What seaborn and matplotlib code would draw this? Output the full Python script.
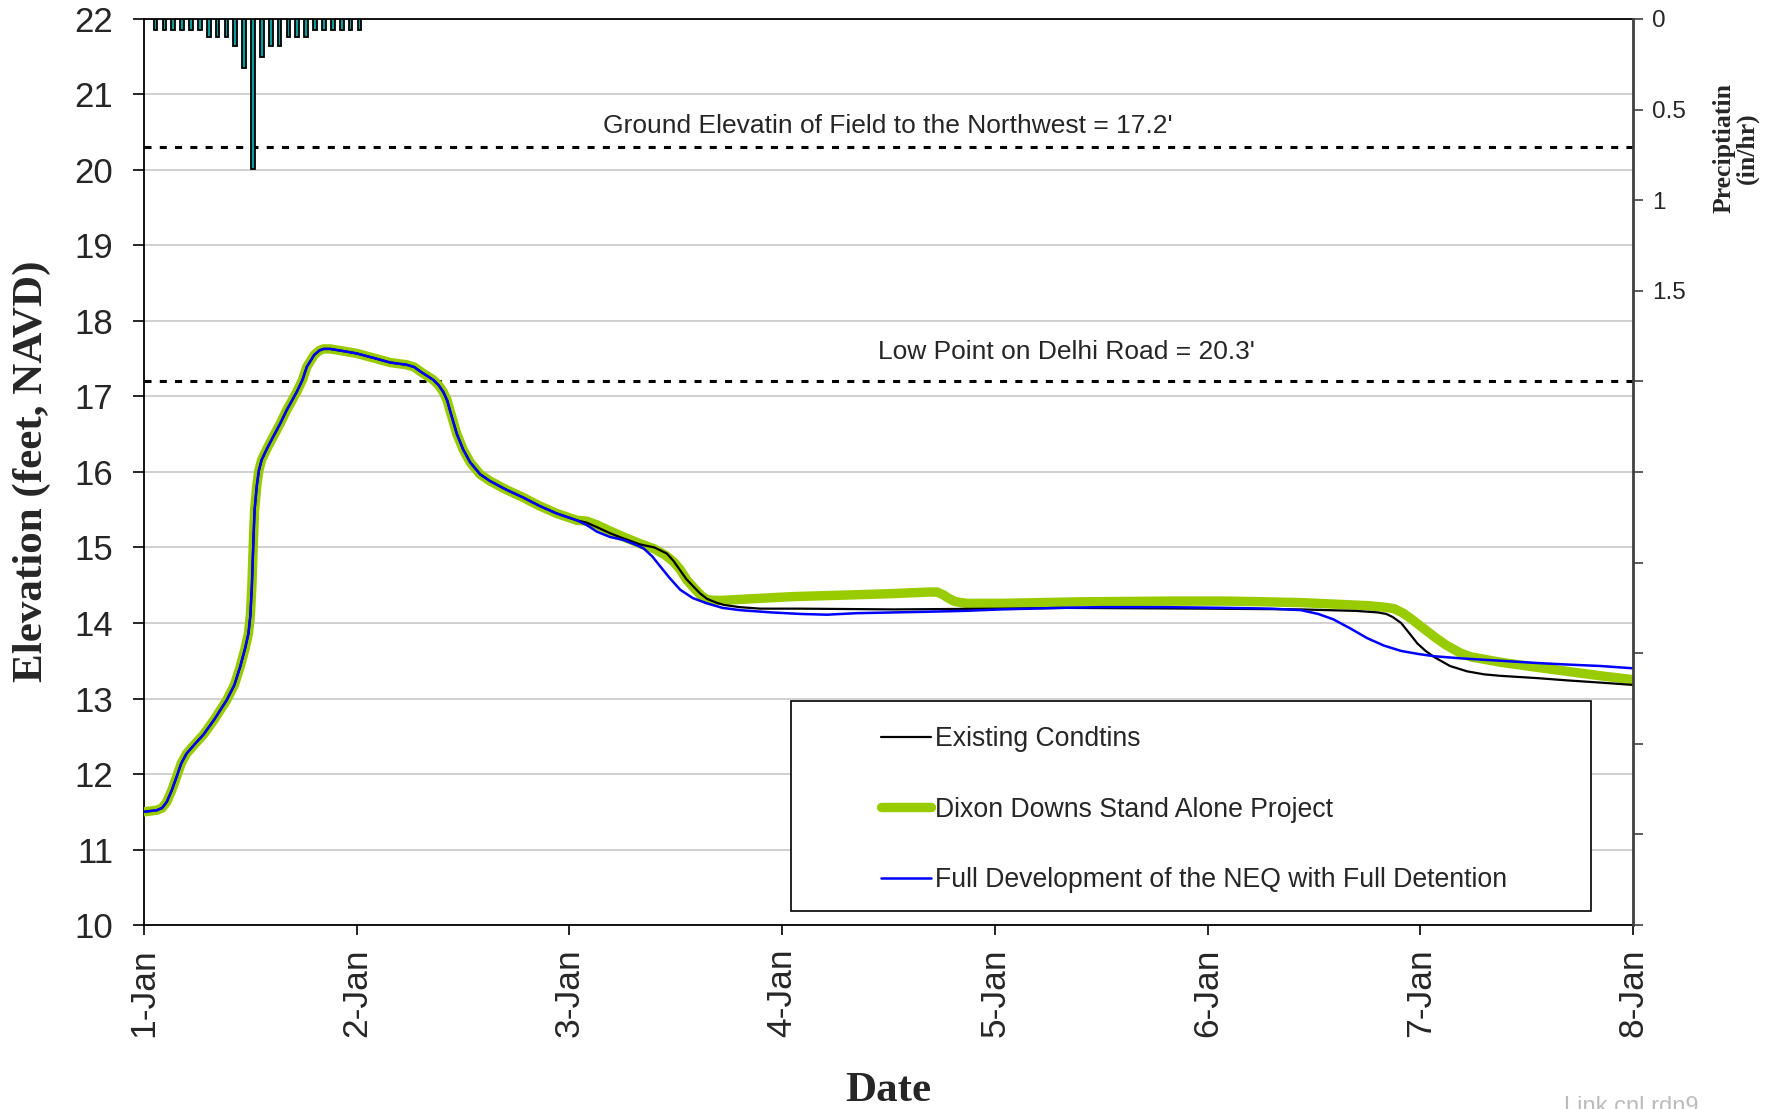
import numpy as np
import pandas as pd
import matplotlib
matplotlib.use("Agg")
import matplotlib.pyplot as plt
import seaborn as sns
from matplotlib.patches import Rectangle
from matplotlib.lines import Line2D
from matplotlib.ticker import FixedLocator, FuncFormatter

sns.set_theme(style="white")
plt.rcParams['font.family'] = ['Liberation Sans', 'DejaVu Sans']

# ---- data -------------------------------------------------------------
day_labels = ["1-Jan", "2-Jan", "3-Jan", "4-Jan", "5-Jan", "6-Jan", "7-Jan", "8-Jan"]

# shared rising limb / recession (days since 1-Jan, elevation ft)
common_day = [0.0, 0.06, 0.085, 0.107, 0.13, 0.153, 0.175, 0.20, 0.24, 0.279,
              0.33, 0.389, 0.425, 0.452, 0.475, 0.491, 0.50, 0.507,
              0.515, 0.52, 0.53, 0.54, 0.553, 0.58, 0.608, 0.64, 0.671, 0.718,
              0.745, 0.765, 0.80, 0.825, 0.844, 0.875,
              0.94, 1.0, 1.08, 1.157, 1.235, 1.27, 1.30, 1.36, 1.385, 1.407,
              1.425, 1.44, 1.47, 1.50, 1.533, 1.58, 1.627, 1.70, 1.784, 1.86,
              1.941, 2.035]
common_elev = [11.50, 11.52, 11.55, 11.63, 11.78, 11.96, 12.14, 12.27, 12.40, 12.52,
               12.72, 12.98, 13.18, 13.42, 13.66, 13.86, 14.10, 14.48,
               15.14, 15.50, 15.81, 16.02, 16.16, 16.32, 16.47, 16.64, 16.82, 17.06,
               17.22, 17.39, 17.55, 17.61, 17.63, 17.63,
               17.60, 17.57, 17.51, 17.45, 17.42, 17.39, 17.33, 17.22, 17.15, 17.06,
               16.95, 16.80, 16.51, 16.30, 16.13, 15.97, 15.88, 15.77, 15.66, 15.55,
               15.45, 15.36]

existing_day = [2.08, 2.129, 2.19, 2.254, 2.333, 2.40, 2.458, 2.49, 2.52, 2.55, 2.584,
                2.615, 2.647, 2.69, 2.725, 2.80, 2.897, 3.086, 3.524, 4.03, 4.34, 5.0,
                5.44, 5.70, 5.80, 5.84, 5.87, 5.91, 5.95, 5.986, 6.025, 6.065, 6.14,
                6.22, 6.30, 6.378, 6.55, 6.69, 6.85, 7.0]
existing_elev = [15.33, 15.27, 15.19, 15.12, 15.04, 15.00, 14.92, 14.82, 14.70, 14.58,
                 14.48, 14.39, 14.32, 14.27, 14.24, 14.21, 14.19, 14.19, 14.18, 14.19,
                 14.20, 14.19, 14.18, 14.16, 14.14, 14.12, 14.08, 14.00, 13.86, 13.73,
                 13.63, 13.55, 13.43, 13.36, 13.32, 13.30, 13.27, 13.24, 13.21, 13.18]

dixon_day = [2.08, 2.129, 2.19, 2.254, 2.333, 2.40, 2.45, 2.49, 2.52, 2.552, 2.60,
             2.625, 2.647, 2.68, 2.72, 2.85, 3.054, 3.3, 3.524, 3.69, 3.713, 3.73,
             3.744, 3.76, 3.775, 3.807, 3.84, 3.869, 4.03, 4.4, 4.81, 5.1, 5.44,
             5.75, 5.83, 5.877, 5.92, 5.955, 6.01, 6.065, 6.12, 6.19, 6.24, 6.28,
             6.378, 6.53, 6.69, 6.85, 7.0]
dixon_elev = [15.35, 15.30, 15.22, 15.14, 15.05, 14.98, 14.90, 14.81, 14.71, 14.57,
              14.42, 14.35, 14.31, 14.30, 14.30, 14.32, 14.35, 14.37, 14.39, 14.41,
              14.41, 14.41, 14.39, 14.37, 14.34, 14.29, 14.27, 14.26, 14.26, 14.28,
              14.29, 14.29, 14.27, 14.23, 14.21, 14.19, 14.13, 14.06, 13.94, 13.82,
              13.71, 13.60, 13.55, 13.53, 13.48, 13.42, 13.36, 13.30, 13.25]

neq_day = [2.08, 2.129, 2.19, 2.254, 2.30, 2.348, 2.39, 2.427, 2.47, 2.521,
           2.58, 2.647, 2.72, 2.803, 2.95, 3.086, 3.21, 3.35, 3.524, 3.70,
           3.85, 4.03, 4.3, 4.5, 4.8, 5.1, 5.3, 5.44, 5.52, 5.59,
           5.67, 5.75, 5.83, 5.91, 5.99, 6.065, 6.2, 6.378, 6.55, 6.69, 6.85, 7.0]
neq_elev = [15.30, 15.21, 15.14, 15.10, 15.05, 14.99, 14.88, 14.75, 14.60, 14.44,
            14.33, 14.26, 14.20, 14.17, 14.14, 14.12, 14.11, 14.13, 14.14, 14.15,
            14.16, 14.18, 14.20, 14.21, 14.21, 14.20, 14.19, 14.17, 14.12, 14.05,
            13.93, 13.80, 13.70, 13.63, 13.59, 13.56, 13.53, 13.50, 13.47, 13.45,
            13.43, 13.40]

# hourly precipitation (hour since start of 1-Jan, in/hr)
precip_hour = [1.3, 2.3, 3.3, 4.3, 5.3, 6.3, 7.3, 8.3, 9.3, 10.3, 11.3, 12.3,
               13.3, 14.3, 15.3, 16.3, 17.3, 18.3, 19.3, 20.3, 21.3, 22.3, 23.3, 24.3]
precip_rate = [0.06, 0.06, 0.06, 0.06, 0.06, 0.06, 0.10, 0.10, 0.10, 0.15, 0.27, 0.83,
               0.21, 0.15, 0.15, 0.10, 0.10, 0.10, 0.06, 0.06, 0.06, 0.06, 0.06, 0.06]

field_level = 20.3
road_level = 17.2
field_text = "Ground Elevatin of Field to the Northwest = 17.2'"
road_text = "Low Point on Delhi Road = 20.3'"

series_names = ["Existing Condtins",
                "Dixon Downs Stand Alone Project",
                "Full Development of the NEQ with Full Detention"]

# ---- frames -------------------------------------------------------------
existing = pd.DataFrame({"day": common_day + existing_day, "elev": common_elev + existing_elev})
dixon = pd.DataFrame({"day": common_day + dixon_day, "elev": common_elev + dixon_elev})
neq = pd.DataFrame({"day": common_day + neq_day, "elev": common_elev + neq_elev})
rain = pd.DataFrame({"day": np.array(precip_hour) / 24.0, "rate": precip_rate})

# ---- figure ---------------------------------------------------------------
fig = plt.figure(figsize=(17.8, 11.09), dpi=100)
ax = fig.add_axes([0.0809, 0.1659, 0.9174 - 0.0809, 0.9829 - 0.1659])

green = "#99cc00"
sns.lineplot(data=dixon, x="day", y="elev", ax=ax, color=green, lw=6.8,
             sort=False, estimator=None, zorder=3, solid_capstyle="round",
             solid_joinstyle="round")
sns.lineplot(data=existing, x="day", y="elev", ax=ax, color="black", lw=1.6,
             sort=False, estimator=None, zorder=3.1, solid_joinstyle="round")
sns.lineplot(data=neq, x="day", y="elev", ax=ax, color="#0000ff", lw=1.8,
             sort=False, estimator=None, zorder=3.2, solid_joinstyle="round")

ax.set_xlim(0, 7)
ax.set_ylim(10, 22)
ax.set_xlabel("")
ax.set_ylabel("")
ax.set_xticks(range(len(day_labels)))
ax.set_xticklabels(day_labels, rotation=90, fontsize=25.5)
ax.set_yticks(range(10, 23))
ax.set_yticklabels([str(v) for v in range(10, 23)], fontsize=25)
ax.yaxis.grid(True, color="#c8c8c8", lw=1.2)
ax.xaxis.grid(False)
ax.set_axisbelow(True)
ax.tick_params(axis="y", which="major", direction="out", length=8, width=1.2,
               color="black", pad=14, left=True)
ax.tick_params(axis="x", which="major", direction="out", length=7, width=1.2,
               color="black", pad=10, bottom=True)
for side in ["left", "bottom", "top"]:
    ax.spines[side].set_color("black")
    ax.spines[side].set_linewidth(1.3)
ax.spines["right"].set_visible(False)

# reference levels
dots = (0, (2.3, 2.7))
ax.axhline(field_level, color="black", lw=2.2, ls=dots, zorder=2.5)
ax.axhline(road_level, color="black", lw=2.2, ls=dots, zorder=2.5)
ax.text(3.495, 20.58, field_text, ha="center", va="center", fontsize=19)
ax.text(4.337, 17.59, road_text, ha="center", va="center", fontsize=19)

# precipitation on an inverted secondary axis
ax2 = ax.twinx()
ax2.bar(rain["day"], rain["rate"], width=0.42 / 24, bottom=0,
        color="#0b9c9c", edgecolor="black", linewidth=1.3, zorder=3)
ax2.set_ylim(5, 0)
ax2.yaxis.set_major_locator(FixedLocator(np.arange(0, 5.01, 0.5)))
ax2.yaxis.set_major_formatter(FuncFormatter(lambda v, p: ("%g" % v) if v <= 1.5 else ""))
ax2.tick_params(axis="y", direction="out", length=7, width=1.2, color="#404040",
                pad=7, labelsize=17.5, right=True)
ax2.grid(False)
for side in ["left", "bottom", "top"]:
    ax2.spines[side].set_visible(False)
ax2.spines["right"].set_color("#404040")
ax2.spines["right"].set_linewidth(2.0)
ax2.set_xlim(0, 7)

# legend box
box = Rectangle((0.4345, 0.0155), 0.5373, 0.2317, transform=ax.transAxes,
                facecolor="white", edgecolor="black", lw=1.2, zorder=4)
ax.add_patch(box)
handles = [Line2D([], [], color="black", lw=1.6),
           Line2D([], [], color=green, lw=6.8, solid_capstyle="round"),
           Line2D([], [], color="#0000ff", lw=1.8)]
leg = ax.legend(handles, series_names, loc="upper left", bbox_to_anchor=(0.495, 0.2195),
                frameon=False, borderpad=0, borderaxespad=0, labelspacing=1.67,
                handlelength=1.87, handletextpad=0.15, fontsize=19.2)
leg.set_zorder(5)

# axis titles
serif = ["Liberation Serif", "DejaVu Serif"]
fig.text(32 / 1780, 1 - 471 / 1109, "Elevation (feet, NAVD)", rotation=90,
         ha="center", va="center", fontsize=31, fontweight="bold", family=serif)
fig.text(888 / 1780, 1 - 1091 / 1109, "Date", ha="center", va="center",
         fontsize=31, fontweight="bold", family=serif)
fig.text(1736 / 1780, 1 - 148 / 1109, "Preciptiatin\n(in/hr)", rotation=90,
         ha="center", va="center", multialignment="center", fontsize=18.5,
         fontweight="bold", family=serif, linespacing=1.0)

fig.text(1564 / 1780, 1 - 1096 / 1109, "Link cnl rdn9", ha="left", va="top",
         fontsize=17, color="#bcbcbc")

fig.savefig("out.png", dpi=100, facecolor="white")
